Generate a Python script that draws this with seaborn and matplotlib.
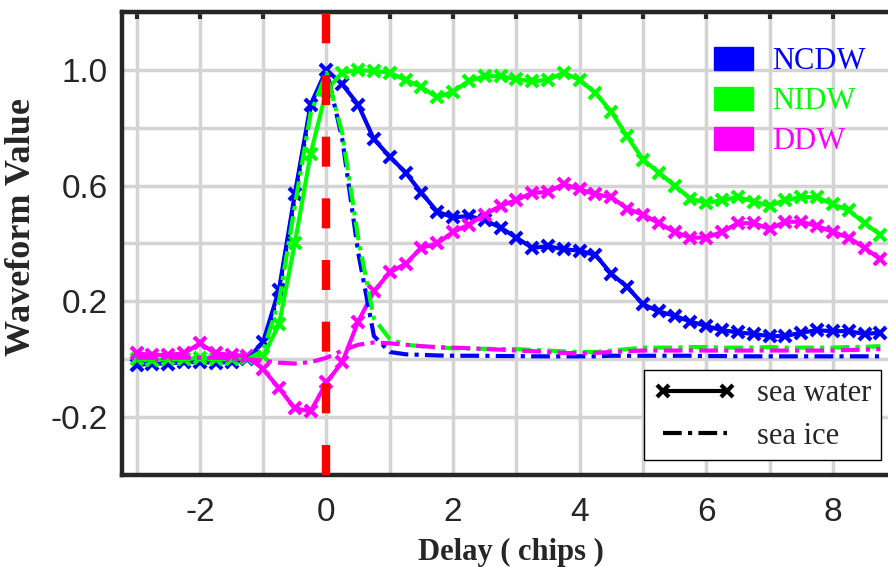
import numpy as np
import pandas as pd
import matplotlib
matplotlib.use("Agg")
import matplotlib.pyplot as plt
import seaborn as sns
from matplotlib.lines import Line2D
from matplotlib.patches import Patch

# delay axis (chips), one sample every quarter chip
delay = np.arange(-3.0, 8.76, 0.25)

# sea water waveforms
ncdw_water = [-0.02, -0.015, -0.015, -0.01, -0.01, -0.012, -0.01, 0.0,
              0.06, 0.24, 0.57, 0.88, 1.0, 0.95, 0.88, 0.76, 0.70, 0.645,
              0.575, 0.51, 0.49, 0.495, 0.48, 0.455, 0.42, 0.385, 0.39, 0.38,
              0.375, 0.36, 0.295, 0.25, 0.19, 0.165, 0.15, 0.13, 0.115, 0.10,
              0.093, 0.087, 0.08, 0.08, 0.092, 0.10, 0.097, 0.097, 0.087, 0.092]
nidw_water = [0.0, -0.002, 0.0, 0.0, 0.005, 0.0, 0.0, 0.005,
              0.01, 0.12, 0.40, 0.71, 0.93, 0.99, 1.0, 0.995, 0.99, 0.965,
              0.94, 0.905, 0.925, 0.962, 0.978, 0.978, 0.968, 0.96, 0.966, 0.99,
              0.965, 0.92, 0.855, 0.77, 0.69, 0.645, 0.60, 0.555, 0.54, 0.55,
              0.56, 0.545, 0.53, 0.55, 0.56, 0.56, 0.535, 0.515, 0.47, 0.43]
ddw_water = [0.02, 0.015, 0.015, 0.02, 0.055, 0.02, 0.015, 0.01,
             -0.035, -0.10, -0.17, -0.18, -0.08, -0.01, 0.13, 0.235, 0.30, 0.33,
             0.385, 0.40, 0.44, 0.465, 0.50, 0.53, 0.55, 0.575, 0.578, 0.605,
             0.587, 0.57, 0.56, 0.52, 0.50, 0.47, 0.44, 0.42, 0.42, 0.44,
             0.47, 0.47, 0.45, 0.475, 0.475, 0.46, 0.44, 0.42, 0.385, 0.345]

# sea ice waveforms
ncdw_ice = [0.0, 0.0, 0.0, 0.0, 0.0, 0.0, 0.0, 0.0,
            0.05, 0.23, 0.56, 0.87, 1.0, 0.76, 0.37, 0.08, 0.025, 0.017,
            0.015, 0.013, 0.012, 0.012, 0.012, 0.011, 0.011, 0.01, 0.01, 0.01,
            0.01, 0.01, 0.012, 0.012, 0.012, 0.012, 0.012, 0.012, 0.011, 0.011,
            0.01, 0.01, 0.01, 0.01, 0.01, 0.01, 0.01, 0.01, 0.01, 0.01]
nidw_ice = [0.0, 0.0, 0.0, 0.0, 0.0, 0.0, 0.0, 0.0,
            0.03, 0.20, 0.53, 0.85, 0.99, 0.78, 0.42, 0.14, 0.07, 0.05,
            0.045, 0.04, 0.038, 0.037, 0.036, 0.035, 0.035, 0.032, 0.03, 0.027,
            0.025, 0.025, 0.03, 0.035, 0.04, 0.04, 0.04, 0.042, 0.042, 0.04,
            0.04, 0.04, 0.042, 0.04, 0.04, 0.04, 0.04, 0.042, 0.043, 0.045]
ddw_ice = [0.005, 0.005, 0.005, 0.005, 0.005, 0.005, 0.003, 0.0,
           -0.005, -0.012, -0.015, -0.01, 0.005, 0.03, 0.05, 0.058, 0.055, 0.05,
           0.045, 0.042, 0.04, 0.038, 0.035, 0.033, 0.03, 0.028, 0.025, 0.022,
           0.02, 0.022, 0.025, 0.028, 0.03, 0.03, 0.03, 0.03, 0.03, 0.03,
           0.03, 0.03, 0.03, 0.03, 0.03, 0.03, 0.03, 0.032, 0.033, 0.035]

names = ["NCDW", "NIDW", "DDW"]
colors = ["#0000ff", "#00ff00", "#ff00ff"]
x_ticks = list(range(-3, 9))
x_labels = ["", "-2", "", "0", "", "2", "", "4", "", "6", "", "8"]
y_ticks = [-0.4, -0.2, 0.0, 0.2, 0.4, 0.6, 0.8, 1.0, 1.2]
y_labels = ["", "-0.2", "", "0.2", "", "0.6", "", "1.0", ""]

ice_dash = (4.5, 1.5, 1, 1.5)

sns.set_theme(style="white")
plt.rcParams["font.family"] = ["Liberation Sans", "DejaVu Sans"]

fig = plt.figure(figsize=(8.88, 5.67), dpi=100)
ax = fig.add_axes([0.1374, 0.1623, 0.8718, 0.8166])

water = [ncdw_water, nidw_water, ddw_water]
ice = [ncdw_ice, nidw_ice, ddw_ice]

for vals, c in zip(water, colors):
    sns.lineplot(x=delay, y=vals, ax=ax, color=c, lw=3, marker="x",
                 markersize=9, markeredgewidth=3, markeredgecolor=c, zorder=3)
for vals, c in zip(ice, colors):
    sns.lineplot(x=delay, y=vals, ax=ax, color=c, lw=3, zorder=4)
for ln in ax.lines[3:6]:
    ln.set_dashes(ice_dash)

ax.axvline(0, color="#ff0000", lw=6, dashes=(3.6, 3.8), zorder=5)

ax.set_xlim(-3.23, 9.0)
ax.set_ylim(-0.4, 1.2)
ax.set_xticks(x_ticks)
ax.set_xticklabels(x_labels)
ax.set_yticks(y_ticks)
ax.set_yticklabels(y_labels)
ax.grid(True, color="#d4d4d4", lw=2.5, zorder=0)
ax.set_axisbelow(True)
ax.tick_params(direction="in", length=5, width=3, colors="#262626",
               labelsize=24, top=True, right=True)
ax.tick_params(axis="x", pad=16)
ax.tick_params(axis="y", pad=10)
for sp in ax.spines.values():
    sp.set_color("#262626")
    sp.set_linewidth(3.2)

ax.set_xlabel("Delay ( chips )", fontfamily="Liberation Serif", fontweight="bold",
              fontsize=22, color="#262626")
ax.set_ylabel("Waveform Value", fontfamily="Liberation Serif", fontweight="bold",
              fontsize=26, color="#262626")
ax.xaxis.set_label_coords(0.503, -0.136)
ax.yaxis.set_label_coords(-0.108, 0.536)

# colour legend
patches = [Patch(facecolor=c, edgecolor=c) for c in colors]
leg1 = ax.legend(patches, names, loc="upper left", bbox_to_anchor=(0.765, 0.925),
                 frameon=False, borderpad=0, borderaxespad=0, handlelength=1.28,
                 handleheight=0.8, handletextpad=0.62, labelspacing=0.35,
                 prop={"family": "Liberation Serif", "size": 22})
for t, c in zip(leg1.get_texts(), colors):
    t.set_color(c)
ax.add_artist(leg1)

# surface type legend
kinds = [Line2D([], [], color="black", lw=3, marker="x", markersize=9,
                markeredgewidth=3),
         Line2D([], [], color="black", lw=3, dashes=ice_dash)]
leg2 = ax.legend(kinds, ["sea water", "sea ice"], loc="lower right",
                 bbox_to_anchor=(0.98, 0.032), numpoints=2, fancybox=False,
                 framealpha=1, edgecolor="black", borderaxespad=0, handlelength=2.7,
                 handletextpad=0.7, labelspacing=0.45, borderpad=0.3,
                 prop={"family": "Liberation Serif", "size": 22})
leg2.get_frame().set_linewidth(1.0)

fig.savefig("out.png", dpi=100)
